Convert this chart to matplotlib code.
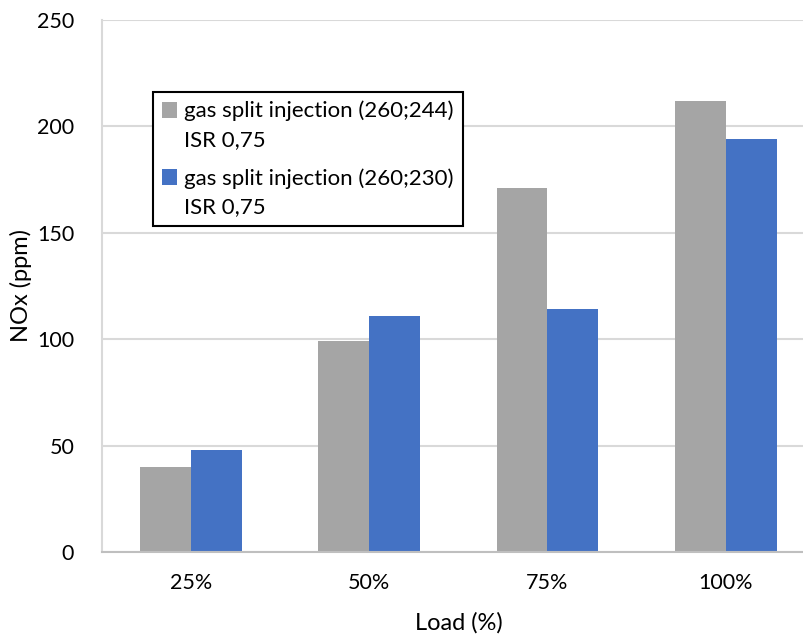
import numpy as np
import matplotlib.pyplot as plt
from matplotlib.patches import Rectangle
from matplotlib.container import BarContainer
from matplotlib.legend_handler import HandlerPatch, update_from_first_child

plt.rcParams['font.family'] = ['Lato', 'DejaVu Sans']

loads = ["25%", "50%", "75%", "100%"]
nox_244 = [40, 99, 171, 212]
nox_230 = [48, 111, 114, 194]
label_244 = "gas split injection (260;244)\nISR 0,75"
label_230 = "gas split injection (260;230)\nISR 0,75"

fig = plt.figure(figsize=(8.04, 6.35), dpi=100)
ax = fig.add_axes([102 / 804, 1 - 552 / 635, 712.8 / 804, 532 / 635])

x = np.arange(len(loads))
w = 0.286
ax.bar(x - w / 2, nox_244, w, color="#a5a5a5", label=label_244, zorder=2)
ax.bar(x + w / 2, nox_230, w, color="#4472c4", label=label_230, zorder=2)

ax.set_xlim(-0.5, 3.5)
ax.set_ylim(0, 250)
ax.set_yticks(range(0, 251, 50))
ax.set_xticks(x)
ax.set_xticklabels(loads)
ax.yaxis.grid(True, color="#d9d9d9", linewidth=1.5, zorder=0)
ax.set_axisbelow(True)
for s in ["top", "right"]:
    ax.spines[s].set_visible(False)
ax.spines["left"].set_color("#d9d9d9")
ax.spines["bottom"].set_color("#bfbfbf")
ax.spines["left"].set_linewidth(1.5)
ax.spines["bottom"].set_linewidth(1.5)
ax.tick_params(length=0, labelsize=15.5, colors="black")
ax.tick_params(axis="y", pad=20)
ax.tick_params(axis="x", pad=15)

ax.set_ylabel("NOx (ppm)", fontsize=17)
ax.set_xlabel("Load (%)", fontsize=17, labelpad=14)
ax.yaxis.set_label_coords(-0.098, 0.5)


# square marker sits next to the first line of the label
def top_square(legend, orig_handle, xdescent, ydescent, width, height, fontsize):
    return Rectangle((-xdescent, -ydescent + 0.72 * fontsize), width, height)


leg = ax.legend(loc="upper left", bbox_to_anchor=(51 / 712.8, (552 - 92) / 532),
                fontsize=16, frameon=True, fancybox=False, handlelength=0.7,
                handleheight=0.7, handletextpad=0.3, labelspacing=0.8,
                borderpad=0.4, borderaxespad=0,
                handler_map={BarContainer: HandlerPatch(patch_func=top_square,
                                                        update_func=update_from_first_child)})
for t in leg.get_texts():
    t.set_linespacing(1.55)
leg.get_frame().set_edgecolor("black")
leg.get_frame().set_linewidth(1.5)
leg.get_frame().set_alpha(1)

fig.savefig("out.png", dpi=100)
